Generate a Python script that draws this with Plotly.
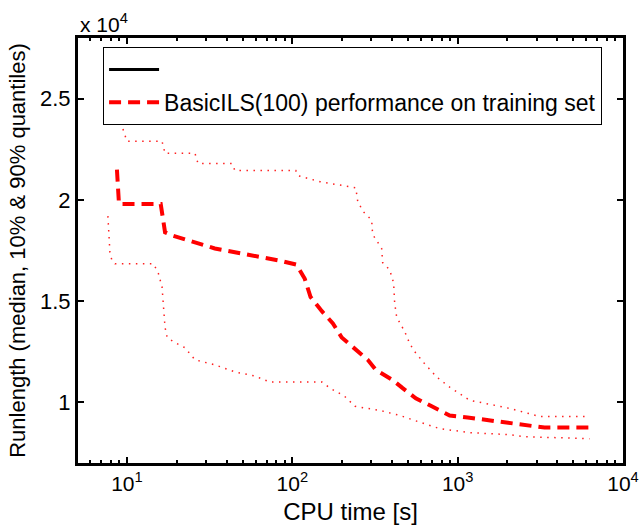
import plotly.graph_objects as go

# Median runlength (dashed)
med_t = [8.7, 8.95, 16.0, 17.0, 18.7, 34.0, 84, 106, 119, 129, 151, 176, 199, 235, 286, 320,
         405, 465, 558, 697, 895, 1148, 1977, 2722, 3355, 6280]
med_y = [21500, 19800, 19800, 18400, 18250, 17600, 17000, 16800, 16100, 15200, 14500, 13900,
         13200, 12700, 12100, 11600, 11100, 10700, 10200, 9800, 9350, 9250, 9000, 8850, 8750, 8750]

# 90% quantile (dotted, upper)
q90_t = [9.46, 10, 16.3, 17.0, 25.8, 26.9, 43.1, 45.0, 105, 108, 147, 207, 242, 249, 270, 302,
         306, 329, 347, 352, 388, 410, 416, 428, 478, 513, 550, 632, 747, 895, 1183, 1358, 2061,
         3126, 6280]
q90_y = [23500, 22900, 22900, 22300, 22300, 21800, 21800, 21450, 21450, 21200, 20900, 20700,
         20600, 19900, 19400, 19000, 18300, 17900, 17600, 16900, 16550, 15900, 14900, 14200,
         13500, 12900, 12500, 11900, 11250, 10750, 10100, 10000, 9700, 9300, 9300]

# 10% quantile (dotted, lower)
q10_t = [7.67, 7.89, 8.12, 8.46, 14.4, 15.4, 16.3, 16.7, 17.0, 17.5, 19.5, 22.4, 25.8, 34.0,
         45.0, 59.3, 73.1, 151, 169, 207, 239, 338, 447, 573, 778, 1183, 2061, 2541, 6280]
q10_y = [19200, 17400, 17000, 16850, 16850, 16450, 15700, 14400, 13700, 13200, 12950, 12700,
         12100, 11850, 11500, 11300, 11000, 11000, 10700, 10300, 9800, 9600, 9350, 9050, 8700,
         8500, 8400, 8300, 8200]

legend_name = "BasicILS(100) performance on training set"
y_ticks = [10000, 15000, 20000, 25000]
y_ticktext = ["1", "1.5", "2", "2.5"]

FONT = "Liberation Sans, Arial, sans-serif"

fig = go.Figure()
fig.add_trace(go.Scatter(x=[None], y=[None], mode="lines", name=" ",
                         line=dict(color="black", width=3)))
fig.add_trace(go.Scatter(x=med_t, y=med_y, mode="lines", name=legend_name,
                         line=dict(color="#ff0000", width=4, dash="12px,7px")))
fig.add_trace(go.Scatter(x=q90_t, y=q90_y, mode="lines", showlegend=False,
                         line=dict(color="#ff2020", width=1.5, dash="1.5px,5.5px")))
fig.add_trace(go.Scatter(x=q10_t, y=q10_y, mode="lines", showlegend=False,
                         line=dict(color="#ff2020", width=1.5, dash="1.5px,5.5px")))

minor_vals = [m * 10 ** e for e in range(0, 4) for m in range(2, 10)]

fig.update_layout(
    width=642, height=527,
    margin=dict(l=78, r=19, t=38, b=64),
    paper_bgcolor="white", plot_bgcolor="white",
    font=dict(family=FONT, size=21, color="black"),
    showlegend=True,
    legend=dict(x=0.046, y=0.979, xanchor="left", yanchor="top",
                bordercolor="black", borderwidth=1, bgcolor="white",
                font=dict(size=23), itemwidth=50, tracegroupgap=0),
    xaxis=dict(type="log", range=[0.704, 4], showgrid=False, zeroline=False,
               automargin=False,
               showline=True, linecolor="black", linewidth=3, mirror="ticks",
               ticks="inside", ticklen=6, tickwidth=2, tickcolor="black",
               tickvals=[10, 100, 1000, 10000],
               ticktext=["10<sup>1</sup>", "10<sup>2</sup>", "10<sup>3</sup>", "10<sup>4</sup>"],
               tickfont=dict(size=21),
               minor=dict(tickvals=minor_vals, ticks="inside", ticklen=3, tickwidth=2,
                          tickcolor="black", showgrid=False),
               title=dict(text="CPU time [s]", standoff=9, font=dict(size=24))),
    yaxis=dict(range=[7000, 28000], showgrid=False, zeroline=False,
               automargin=False,
               showline=True, linecolor="black", linewidth=3, mirror="ticks",
               ticks="inside", ticklen=6, tickwidth=2, tickcolor="black",
               tickvals=y_ticks, ticktext=y_ticktext, tickfont=dict(size=22),
               title=dict(text="Runlength (median, 10% & 90% quantiles)", standoff=9,
                          font=dict(size=22))),
)
fig.add_annotation(text="x 10<sup>4</sup>", xref="paper", yref="paper", x=0, y=1,
                   xanchor="left", yanchor="bottom", showarrow=False, yshift=0,
                   font=dict(size=21))

fig.write_html("out.html", post_script="document.body.style.margin='0';",
               config={"displayModeBar": False})
